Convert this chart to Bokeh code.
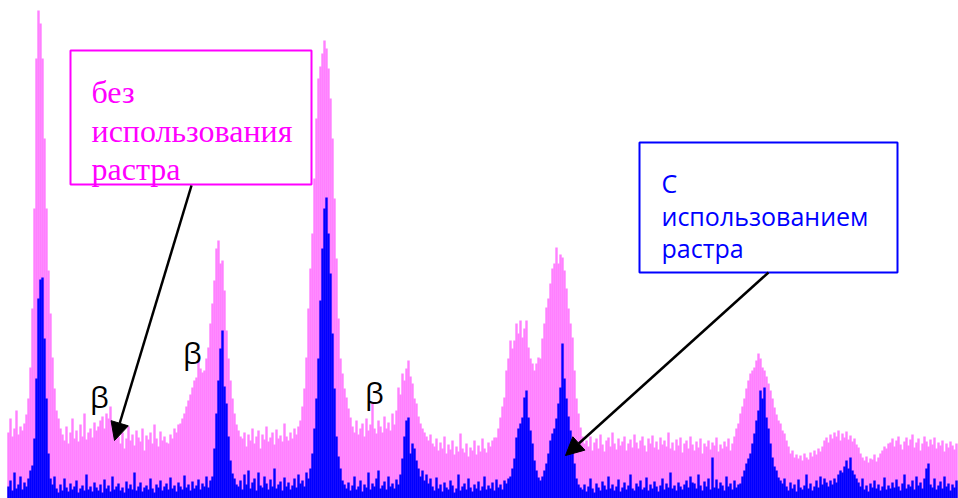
import numpy as np
from bokeh.plotting import figure
from bokeh.models import Arrow, NormalHead
from bokeh.core.properties import value
from bokeh.embed import file_html
from bokeh.resources import INLINE

# channel axis (one sample every 2 px of the original picture)
channels = list(range(8, 958, 2))

# spectrum without raster (pink) - heights
pink = (
    [66, 80, 62, 70, 88, 64, 72, 68, 75, 84]
    + [100, 131, 190, 290, 440, 488, 475, 440, 360, 290, 228, 185, 141, 110, 88, 80, 70]
    + [64, 58, 72, 55, 66, 80, 60, 68, 57, 74, 62, 85, 59, 66, 70, 61, 76, 68, 72]
    + [78, 82, 70, 85, 80, 92, 76, 72, 68]
    + [62, 55, 66, 50, 60, 72, 58, 64, 53, 68, 61, 57, 70, 48, 63, 59, 66, 55, 74, 60, 52, 67, 58, 62, 56]
    + [55, 64, 60, 70, 66, 74, 75, 80, 85, 92, 98, 104, 111, 118, 121, 138, 130, 126, 128, 140,
       151, 175, 195, 218, 250, 258, 235, 238, 208, 168, 140, 118, 100, 85, 74, 68, 62]
    + [60, 66, 52, 64, 58, 70, 55, 62, 68, 50, 64, 59, 72, 57, 61, 66, 54, 69, 60, 63, 57, 75, 62, 58, 66, 60, 70, 64, 72]
    + [78, 92, 110, 141, 190, 230, 265, 320, 380, 420, 432, 445, 458, 450, 430, 400, 360, 300, 240, 180,
       140, 125, 110, 101, 90, 81]
    + [72, 66, 78, 64, 70, 75, 62, 80, 68, 74, 95, 70, 65, 78, 72, 66, 82, 70, 76, 68, 85, 74, 88]
    + [111, 104, 125, 118, 130, 138, 122, 115, 100, 95, 82, 75]
    + [70, 66, 62, 58, 64, 55, 52, 60, 48, 56, 50, 62, 45, 54, 49, 58, 44, 52, 47, 65, 50, 46, 55, 42, 51,
       48, 58, 44, 53, 47, 60, 50, 46, 56, 52, 58, 61]
    + [61, 70, 81, 92, 101, 128, 140, 158, 150, 158, 175, 165, 178, 161, 170, 178, 151, 140, 135, 128,
       135, 141, 140, 160, 175, 191, 200, 215, 230, 235, 251, 235, 244, 241, 228, 210, 190, 175, 161, 128,
       100, 85, 71, 62, 55]
    + [58, 52, 62, 48, 56, 60, 50, 64, 54, 47, 58, 61, 52, 66, 55, 49, 60, 53, 57, 62,
       48, 55, 59, 51, 64, 56, 50, 58, 62, 53, 47, 60, 55, 63, 51, 57, 49, 61, 54, 58,
       52, 66, 50, 56, 48, 59, 53, 61, 46, 55, 58, 50, 62, 54, 48, 57, 51, 60, 45, 55,
       52, 58, 49, 56, 53, 61, 47, 54, 50, 57, 52, 60, 48]
    + [55, 62, 70, 75, 85, 92, 100, 110, 118, 125, 128, 131, 138, 145, 140, 131, 128, 122, 115, 108,
       100, 91, 84, 78, 75, 68, 65, 58, 52, 45, 48, 41, 44]
    + [40, 43, 38, 45, 41, 39, 46, 42, 48, 44, 50, 47]
    + [52, 58, 61, 56, 64, 60, 66, 62, 68, 58, 65, 61, 67, 59, 63, 57, 60, 54, 51]
    + [45, 41, 38, 42, 36, 40, 39, 44, 37, 41, 45, 48, 52, 50, 55]
    + [56, 60, 52, 58, 62, 54, 49, 57, 61, 53, 59, 64, 51, 56, 60, 48, 55, 62, 57, 52,
       59, 54, 61, 50, 56, 53, 58, 47, 55, 51, 57, 53, 49, 55]
)

# spectrum with raster (blue)
blue = (
    [12, 18, 8, 26, 10, 14, 22, 9, 16, 12, 20, 28]
    + [33, 60, 120, 200, 219, 221, 160, 100, 45, 20, 14, 22]
    + [10, 6, 14, 8, 20, 11, 7, 15, 9, 12,
       18, 6, 10, 13, 8, 24, 9, 12, 7, 16,
       11, 8, 14, 6, 19, 10, 13, 7, 22, 9,
       12, 15, 8, 11, 6, 17, 10, 14, 9, 26,
       8, 12, 16, 7, 11, 13, 9, 20, 10, 6,
       14, 11, 18, 8, 12, 15, 9, 21, 10, 13,
       7, 16, 12, 9, 23, 11, 14, 8, 17, 10,
       13, 19, 9, 15, 12, 22, 11, 18]
    + [22, 50, 85, 118, 150, 168, 112, 95, 62, 38, 25, 20, 14]
    + [12, 18, 9, 24, 14, 28, 10, 16, 20, 8,
       26, 13, 11, 22, 15, 9, 19, 12, 30, 10,
       14, 17, 8, 21, 12, 16, 9, 13, 20, 11,
       24, 15, 18, 12, 26, 20, 30]
    + [45, 70, 100, 140, 198, 250, 290, 301, 265, 225, 165, 110, 62, 42, 30, 18, 14]
    + [10, 16, 8, 13, 22, 9, 12, 18, 7, 14,
       11, 26, 9, 15, 12, 20, 28, 10, 13, 17,
       9, 22, 12, 15, 10, 19, 14, 24]
    + [40, 62, 78, 81, 45, 55, 50, 38, 30, 22, 28, 18, 24, 15, 20]
    + [12, 8, 21, 10, 14, 7, 16, 11, 9, 18,
       13, 6, 10, 24, 8, 12, 15, 9, 20, 11,
       7, 14, 10, 17, 8, 12, 22, 9, 13, 10,
       16, 8, 19, 11, 14, 9, 18, 15]
    + [20, 22, 30, 40, 61, 70, 75, 81, 101, 108, 81, 68, 55, 38, 28, 21, 18, 22, 28]
    + [35, 45, 58, 65, 70, 80, 95, 111, 155, 120, 100, 82, 68, 50, 35, 20, 14, 11]
    + [9, 14, 7, 12, 20, 10, 6, 15, 11, 8,
       17, 13, 9, 22, 10, 14, 8, 12, 19, 7,
       11, 16, 9, 13, 24, 10, 8, 15, 12, 18,
       9, 11, 21, 8, 14, 10, 17, 12, 7, 13,
       20, 9, 15, 11, 26, 10, 13, 8, 16, 12,
       9, 14, 18, 11, 22, 16, 15, 10, 24, 13,
       8, 17, 12, 20, 9, 41, 11, 19, 10, 16,
       13, 8, 22, 12, 15, 9, 18, 11, 14]
    + [15, 22, 28, 35, 40, 45, 55, 65, 78, 88, 108, 100, 111, 81, 70, 55, 41, 32, 28, 21, 18, 15, 20]
    + [12, 8, 16, 10, 14, 7, 19, 11, 9, 13,
       24, 10, 15, 8, 12, 18, 11, 22, 14, 20,
       16, 12, 18, 14, 20, 16, 24, 28, 26, 32,
       38, 30, 41, 28, 24, 20, 16, 12, 20, 9,
       13, 7, 15, 11, 18, 10, 14, 8, 12, 21,
       9, 13, 10, 16, 11, 19, 12, 8, 15, 24,
       10, 14, 12, 18, 9, 22, 13, 16, 10, 20,
       30, 35, 14, 11, 20, 9, 13, 17, 10, 22,
       12, 15, 8, 14, 11, 18]
)

assert len(pink) == len(channels), len(pink)
assert len(blue) == len(channels), len(blue)

label_pink = ["без", "использования", "растра"]
label_blue = ["С", "использованием", "растра"]
beta_labels = ["β", "β", "β"]

PINK = "#FF80FF"
MAGENTA = "#FF00FF"
BLUE = "#0000FF"

p = figure(width=958, height=498, x_range=(0, 958), y_range=(0, 498),
           output_backend="svg", toolbar_location=None,
           x_axis_type=None, y_axis_type=None, min_border=0)
p.grid.visible = False
p.outline_line_color = None
p.background_fill_color = "white"

p.vbar(x=channels, width=2.4, top=pink, bottom=0, fill_color=PINK, line_color=None)
p.vbar(x=channels, width=2.4, top=blue, bottom=0, fill_color=BLUE, line_color=None)

# annotation boxes
p.quad(left=[70], right=[311], bottom=[314], top=[448], fill_color="white",
       line_color=MAGENTA, line_width=2)
p.quad(left=[639], right=[897], bottom=[226], top=[356], fill_color="white",
       line_color=BLUE, line_width=2)

p.text(x=[91, 91, 91], y=[407, 368, 330], text=label_pink,
       text_font=value("Times New Roman"), text_font_size=value("32px"),
       text_color=MAGENTA, text_baseline="alphabetic", text_align="left")
p.text(x=[661, 661, 661], y=[316, 283, 251], text=label_blue,
       text_font=value("Open Sans"), text_font_size=value("25px"),
       text_color=BLUE, text_baseline="alphabetic", text_align="left")

p.text(x=[99, 192, 374], y=[102, 146, 106], text=beta_labels,
       text_font=value("Open Sans"), text_font_size=value("30px"),
       text_color="black", text_baseline="alphabetic", text_align="center")

p.add_layout(Arrow(end=NormalHead(size=18, fill_color="black", line_color="black"),
                   x_start=191, y_start=313, x_end=114, y_end=58,
                   line_color="black", line_width=2.5))
p.add_layout(Arrow(end=NormalHead(size=18, fill_color="black", line_color="black"),
                   x_start=768, y_start=226, x_end=565, y_end=43,
                   line_color="black", line_width=2.5))

open("out.html", "w").write(file_html(p, INLINE))
